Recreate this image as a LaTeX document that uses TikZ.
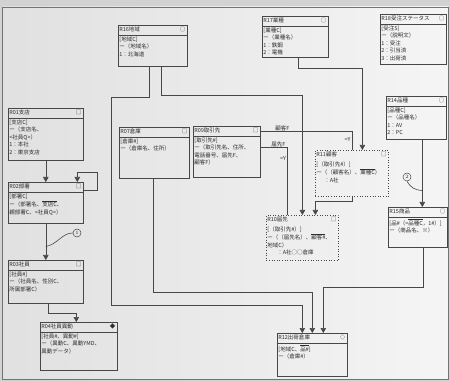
\documentclass[tikz,border=0pt]{standalone}
\usepackage{fontspec}
\newfontfamily\jp{Noto Sans CJK JP}
\usetikzlibrary{arrows.meta}
\colorlet{ink}{black!72}
\colorlet{inktext}{black!82}
\newcommand{\fk}[1]{$\overline{\mbox{#1}}$}

\begin{document}
\begin{tikzpicture}[
    x=1pt, y=-1pt,
    ent/.style={draw=ink, line width=0.6pt, anchor=north west, inner sep=0pt},
    subent/.style={ent, dotted, line width=0.8pt},
    ttl/.style={anchor=north west, inner xsep=1.2pt, inner ysep=1.8pt, font=\jp\fontsize{5.5}{6}\selectfont, text=inktext},
    sym/.style={anchor=north east, inner xsep=2pt, inner ysep=1.8pt, font=\jp\fontsize{5.5}{6}\selectfont, text=inktext},
    body/.style={anchor=north west, align=left, inner xsep=1.2pt, inner ysep=1.5pt, font=\jp\fontsize{5.5}{7.5}\selectfont, text=inktext},
    sep/.style={draw=ink, line width=0.6pt},
    conn/.style={draw=ink, line width=0.6pt, -{Triangle[width=5.5pt,length=5pt]}},
    link/.style={draw=ink, line width=0.6pt},
    lbl/.style={font=\jp\fontsize{5.5}{6}\selectfont, text=inktext, inner sep=1pt},
    tag/.style={circle, draw=ink, line width=0.5pt, inner sep=0pt, minimum size=8pt, font=\fontsize{5}{5}\selectfont, text=inktext}
  ]
  \useasboundingbox (0,0) rectangle (450,382);
  \fill[gray!35] (0,0) rectangle (450,382);
  \shade[left color=gray!24, middle color=gray!19, right color=gray!8] (2,7) rectangle (448,379);
  \draw[black!55, line width=0.5pt] (2,7) rectangle (448,379);

  % code tables
  \node[ent, minimum width=69, minimum height=41] (r16) at (118,25) {};
  \draw[sep] ([yshift=-10pt]r16.north west) -- ([yshift=-10pt]r16.north east);
  \node[ttl] (r16t) at (r16.north west) {R16地域};
  \node[sym] (r16s) at (r16.north east) {○};
  \node[body] (r16b) at ([yshift=-10pt]r16.north west) {[地域C]\\ー（地域名）\\1：北海道};

  \node[ent, minimum width=66, minimum height=41] (r17) at (262,16) {};
  \draw[sep] ([yshift=-10pt]r17.north west) -- ([yshift=-10pt]r17.north east);
  \node[ttl] (r17t) at (r17.north west) {R17業種};
  \node[sym] (r17s) at (r17.north east) {○};
  \node[body] (r17b) at ([yshift=-10pt]r17.north west) {[業種C]\\ー（業種名）\\1：鉄鋼\\2：電機};

  \node[ent, minimum width=66, minimum height=50] (r18) at (380,14) {};
  \draw[sep] ([yshift=-10pt]r18.north west) -- ([yshift=-10pt]r18.north east);
  \node[ttl] (r18t) at (r18.north west) {R18受注ステータス};
  \node[sym] (r18s) at (r18.north east) {○};
  \node[body] (r18b) at ([yshift=-10pt]r18.north west) {[受注S]\\ー（説明文）\\1：受注\\2：引当済\\3：出荷済};

  \node[ent, minimum width=60, minimum height=43] (r14) at (386,96) {};
  \draw[sep] ([yshift=-10pt]r14.north west) -- ([yshift=-10pt]r14.north east);
  \node[ttl] (r14t) at (r14.north west) {R14品種};
  \node[sym] (r14s) at (r14.north east) {○};
  \node[body] (r14b) at ([yshift=-10pt]r14.north west) {[品種C]\\ー（品種名）\\1：AV\\2：PC};

  \node[ent, minimum width=59, minimum height=40] (r15) at (388,207) {};
  \draw[sep] ([yshift=-10pt]r15.north west) -- ([yshift=-10pt]r15.north east);
  \node[ttl] (r15t) at (r15.north west) {R15商品};
  \node[sym] (r15s) at (r15.north east) {○};
  \node[body] (r15b) at ([yshift=-10pt]r15.north west) {[品\#（=\fk{品種C}，1\#）]\\ー（商品名、※）};

  % organisation
  \node[ent, minimum width=75, minimum height=52] (r01) at (8,108) {};
  \draw[sep] ([yshift=-10pt]r01.north west) -- ([yshift=-10pt]r01.north east);
  \node[ttl] (r01t) at (r01.north west) {R01支店};
  \node[sym] (r01s) at (r01.north east) {□};
  \node[body] (r01b) at ([yshift=-10pt]r01.north west) {[支店C]\\ー（支店名、\\<社員Q>）\\1：本社\\2：東京支店};

  \node[ent, minimum width=75, minimum height=41] (r02) at (8,182) {};
  \draw[sep] ([yshift=-10pt]r02.north west) -- ([yshift=-10pt]r02.north east);
  \node[ttl] (r02t) at (r02.north west) {R02部署};
  \node[sym] (r02s) at (r02.north east) {□};
  \node[body] (r02b) at ([yshift=-10pt]r02.north west) {[部署C]\\ー（部署名、\fk{支店C}、\\親部署C、<社員Q>）};

  \node[ent, minimum width=75, minimum height=43] (r03) at (8,260) {};
  \draw[sep] ([yshift=-10pt]r03.north west) -- ([yshift=-10pt]r03.north east);
  \node[ttl] (r03t) at (r03.north west) {R03社員};
  \node[sym] (r03s) at (r03.north east) {□};
  \node[body] (r03b) at ([yshift=-10pt]r03.north west) {[社員\#]\\ー（社員名、性別C、\\所属部署C）};

  \node[ent, minimum width=77, minimum height=48] (r04) at (40,322) {};
  \draw[sep] ([yshift=-10pt]r04.north west) -- ([yshift=-10pt]r04.north east);
  \node[ttl] (r04t) at (r04.north west) {R04社員異動};
  \node[sym] (r04s) at (r04.north east) {◆};
  \node[body] (r04b) at ([yshift=-10pt]r04.north west) {[社員\#、異動\#]\\ー（異動C、異動YMD、\\異動データ）};

  % business partners and stock
  \node[ent, minimum width=70, minimum height=51] (r07) at (119,127) {};
  \draw[sep] ([yshift=-10pt]r07.north west) -- ([yshift=-10pt]r07.north east);
  \node[ttl] (r07t) at (r07.north west) {R07倉庫};
  \node[sym] (r07s) at (r07.north east) {□};
  \node[body] (r07b) at ([yshift=-10pt]r07.north west) {[倉庫\#]\\ー（倉庫名、住所）};

  \node[ent, minimum width=67, minimum height=51] (r09) at (193,126) {};
  \draw[sep] ([yshift=-10pt]r09.north west) -- ([yshift=-10pt]r09.north east);
  \node[ttl] (r09t) at (r09.north west) {R09取引先};
  \node[sym] (r09s) at (r09.north east) {□};
  \node[body] (r09b) at ([yshift=-10pt]r09.north west) {[取引先\#]\\ー（取引先名、住所、\\電話番号、届先F、\\顧客F）};

  \node[subent, minimum width=73, minimum height=46] (r11) at (315,150) {};
  \node[ttl] (r11t) at (r11.north west) {R11顧客};
  \node[sym] (r11s) at (r11.north east) {□};
  \node[body] (r11b) at ([yshift=-10pt]r11.north west) {[（取引先\#）]\\ー（（顧客名）、\fk{業種C}）\\\hspace*{8pt}：A社};

  \node[subent, minimum width=72, minimum height=45] (r10) at (266,215) {};
  \node[ttl] (r10t) at (r10.north west) {R10届先};
  \node[sym] (r10s) at (r10.north east) {□};
  \node[body] (r10b) at ([yshift=-10pt]r10.north west) {[（取引先\#）]\\ー（（届先名）、\fk{顧客\#}、\\地域C）\\\hspace*{10pt}：A社○○倉庫};

  \node[ent, minimum width=70, minimum height=43] (r12) at (277,333) {};
  \draw[sep] ([yshift=-10pt]r12.north west) -- ([yshift=-10pt]r12.north east);
  \node[ttl] (r12t) at (r12.north west) {R12出荷倉庫};
  \node[sym] (r12s) at (r12.north east) {◇};
  \node[body] (r12b) at ([yshift=-10pt]r12.north west) {[地域C、\fk{品\#}]\\ー（倉庫\#）};

  % relationships
  \draw[conn] (r01.south) -- (r02.north);
  \draw[conn] ([yshift=12pt]r02.east) -- ++(14,0) -- ++(0,-18) -| ([xshift=31.5pt]r02.north);
  \draw[conn] (r02.south) -- (r03.north);
  \draw[conn] ([xshift=2.5pt]r03.south) -- ++(0,10) -| ([xshift=-2.5pt]r04.north);
  \draw[conn] ([xshift=-3.5pt]r16.south) -- ++(0,31) -| (111,305) -| ([xshift=-10pt]r12.north);
  \draw[conn] ([xshift=8pt]r16.south) -- ++(0,29) -| (r10.north);
  \draw[conn] ([xshift=3pt]r17.south) -- ++(0,11) -| ([xshift=10.5pt]r11.north);
  \draw[link] ([yshift=20pt]r09.east) -| node[lbl, above, pos=0.12] {顧客F} node[lbl, left, pos=0.72] {=Y} (r11.north);
  \draw[link] ([yshift=4pt]r09.east) -| node[lbl, above, pos=0.33] {届先F} node[lbl, left, pos=0.58] {=Y} ([xshift=-15pt]r10.north);
  \draw[conn] ([xshift=0.5pt]r11.south) -- ++(0,5) -| ([xshift=13pt]r10.north);
  \draw[conn] ([xshift=-1pt]r07.south) -- ++(0,114) -| (r12.north);
  \draw[conn] ([xshift=6pt]r14.south) -- ([xshift=4.5pt]r15.north);
  \draw[conn] ([xshift=5.5pt]r15.south) -- ++(0,40) -| ([xshift=11pt]r12.north);

  % notes
  \node[tag] (c1) at (77,233) {1};
  \coordinate (p1) at ([yshift=-23pt]r02.south);
  \draw[link] (p1) .. controls (58,244) and (62,233) .. (c1.west);
  \node[tag] (c2) at (407,177) {2};
  \coordinate (p2) at ([xshift=6pt,yshift=-51pt]r14.south);
  \draw[link] (c2.south) .. controls (411,188) and (415,190) .. (p2);
\end{tikzpicture}
\end{document}
